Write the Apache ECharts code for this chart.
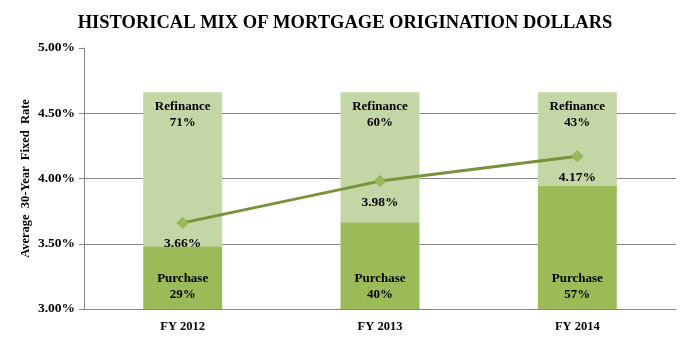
<!DOCTYPE html>
<html>
<head>
<meta charset="utf-8">
<script src="https://cdn.jsdelivr.net/npm/echarts@6/dist/echarts.min.js"></script>
<style>
  html, body { margin: 0; padding: 0; background: #ffffff; }
  #chart { width: 690px; height: 341px; }
</style>
</head>
<body>
<div id="chart"></div>
<script>
// Fiscal years shown on the category axis
const years = ['FY 2012', 'FY 2013', 'FY 2014'];
// Share of origination dollars (%) by loan purpose
const purchaseShare = [29, 40, 57];
const refinanceShare = [71, 60, 43];
// Average 30-year fixed mortgage rate (%)
const avgRate = [3.66, 3.98, 4.17];
// Rate-axis tick labels
const rateTicks = ['3.00%', '3.50%', '4.00%', '4.50%', '5.00%'];

// Each mix column spans the rate axis from its floor up to this level
const axisFloor = 3.0;
const mixTop = 4.66;
const mixSpan = mixTop - axisFloor;

const serif = '"Liberation Serif", "Times New Roman", serif';

// Purchase segment sits on the axis floor; refinance is stacked on top
const purchaseBars = purchaseShare.map(s => +(axisFloor + s / 100 * mixSpan).toFixed(4));
const refinanceBars = refinanceShare.map(s => +(s / 100 * mixSpan).toFixed(4));

const chart = echarts.init(document.getElementById('chart'), null, { renderer: 'canvas' });

chart.setOption({
  animation: false,
  backgroundColor: '#ffffff',
  title: {
    text: 'HISTORICAL MIX OF MORTGAGE ORIGINATION DOLLARS',
    left: 'center',
    top: 9,
    textStyle: { fontFamily: serif, fontWeight: 'bold', fontSize: 18.5, color: '#000000' }
  },
  grid: { left: 84, right: 14, top: 48, bottom: 32 },
  xAxis: {
    type: 'category',
    data: years,
    axisLine: { show: true, lineStyle: { color: '#868686', width: 1 } },
    axisTick: { show: false },
    axisLabel: { fontFamily: serif, fontWeight: 'bold', fontSize: 12.5, color: '#000000', margin: 11 }
  },
  yAxis: {
    type: 'value',
    min: 3,
    max: 5,
    interval: 0.5,
    name: 'Average  30-Year  Fixed  Rate',
    nameLocation: 'middle',
    nameRotate: 90,
    nameGap: 52,
    nameMoveOverlap: false,
    nameTextStyle: { fontFamily: serif, fontWeight: 'bold', fontSize: 12.5, color: '#000000' },
    axisLine: { show: true, lineStyle: { color: '#868686', width: 1 } },
    axisTick: { show: true, length: 5, lineStyle: { color: '#868686' } },
    splitLine: { show: true, showMaxLine: false, lineStyle: { color: '#868686', width: 1 } },
    axisLabel: {
      fontFamily: serif, fontWeight: 'bold', fontSize: 13.5, color: '#000000', margin: 9,
      formatter: (v) => rateTicks[Math.round((v - 3) / 0.5)]
    }
  },
  series: [
    {
      name: 'Purchase',
      type: 'bar',
      stack: 'mix',
      barWidth: '40%',
      data: purchaseBars,
      itemStyle: { color: '#9bbb59' },
      label: {
        show: true,
        position: 'insideBottom',
        distance: 6,
        fontFamily: serif, fontWeight: 'bold', fontSize: 13, color: '#000000', lineHeight: 16,
        formatter: (p) => 'Purchase\n' + purchaseShare[p.dataIndex] + '%'
      },
      z: 2
    },
    {
      name: 'Refinance',
      type: 'bar',
      stack: 'mix',
      barWidth: '40%',
      data: refinanceBars,
      itemStyle: { color: '#c4d6a5' },
      label: {
        show: true,
        position: 'insideTop',
        distance: 6,
        fontFamily: serif, fontWeight: 'bold', fontSize: 13, color: '#000000', lineHeight: 16,
        formatter: (p) => 'Refinance\n' + refinanceShare[p.dataIndex] + '%'
      },
      z: 2
    },
    {
      name: 'Average Rate',
      type: 'line',
      data: avgRate,
      symbol: 'diamond',
      symbolSize: 11,
      lineStyle: { color: '#77933c', width: 3 },
      itemStyle: { color: '#9bbb59', borderColor: '#8aac4c', borderWidth: 1 },
      label: {
        show: true,
        position: 'bottom',
        distance: 8,
        fontFamily: serif, fontWeight: 'bold', fontSize: 13.5, color: '#000000',
        formatter: (p) => p.value.toFixed(2) + '%'
      },
      z: 5
    }
  ]
});
</script>
</body>
</html>
